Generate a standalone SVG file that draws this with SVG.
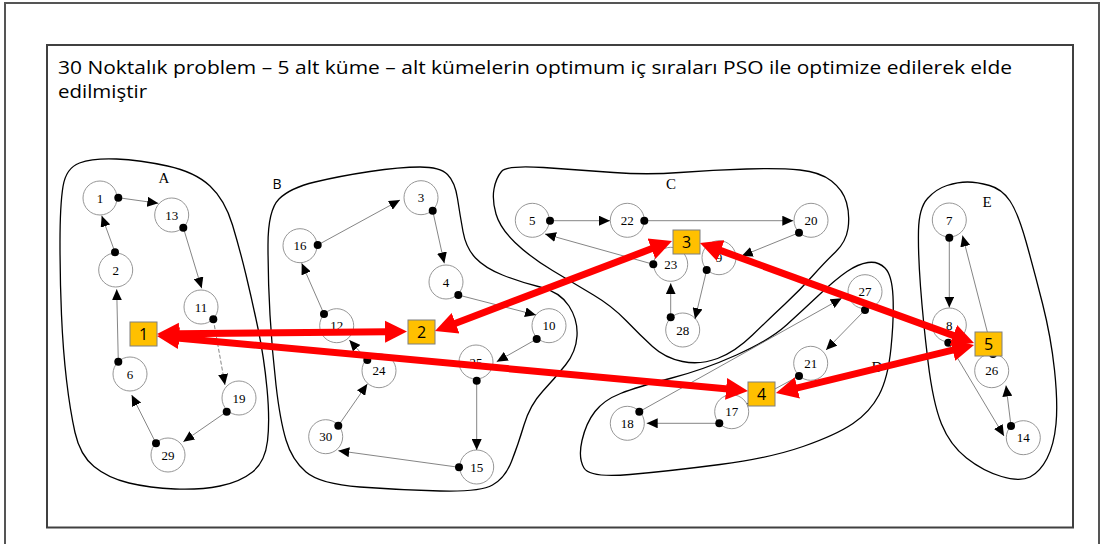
<svg xmlns="http://www.w3.org/2000/svg" width="1101" height="544" viewBox="0 0 1101 544">
  <style>
    .frame { fill: none; stroke: #555; stroke-width: 2; }
    .panel { fill: #fff; stroke: #404040; stroke-width: 2; }
    .title { font-family: "Open Sans", "Liberation Sans", sans-serif; font-size: 19px; fill: #000; }
    .cluster { fill: none; stroke: #000; stroke-width: 1.3; }
    .clabel { font-family: "Liberation Serif", serif; font-size: 15px; fill: #000; text-anchor: middle; }
    .clabel-s { font-family: "Open Sans", "Liberation Sans", sans-serif; font-size: 14px; fill: #000; text-anchor: middle; }
    .node circle { fill: #fff; stroke: #8a8a8a; stroke-width: 0.9; }
    .node text { font-family: "Liberation Serif", serif; font-size: 13px; fill: #000; text-anchor: middle; dominant-baseline: central; }
    .edge { stroke: #666; stroke-width: 0.8; fill: none; marker-end: url(#tip); }
    .dot { fill: #000; }
    .hub rect { fill: #FFC000; stroke: #7f7f7f; stroke-width: 1; }
    .hub text { font-family: "Open Sans", "Liberation Sans", sans-serif; font-size: 16px; fill: #000; text-anchor: middle; dominant-baseline: central; }
    .link { stroke: #FF0000; stroke-width: 7; fill: none; marker-start: url(#big); marker-end: url(#big); }
  </style>
  <defs>
    <marker id="tip" markerUnits="userSpaceOnUse" markerWidth="12" markerHeight="10" refX="11" refY="5" orient="auto">
      <path d="M0,0 L11,5 L0,10 Z" fill="#000"/>
    </marker>
    <marker id="big" markerUnits="userSpaceOnUse" markerWidth="24" markerHeight="24" refX="2" refY="12" orient="auto-start-reverse">
      <path d="M0,1 L22,12 L0,23 Z" fill="#FF0000"/>
    </marker>
  </defs>

  <!-- page frame and panel -->
  <path class="frame" d="M5,548 V3 H1099 V548"/>
  <rect class="panel" x="47" y="45" width="1026" height="482.5"/>

  <text class="title" x="58" y="74" textLength="954" lengthAdjust="spacingAndGlyphs">30 Noktalık problem – 5 alt küme – alt kümelerin optimum iç sıraları PSO ile optimize edilerek elde</text>
  <text class="title" x="58" y="98" textLength="89" lengthAdjust="spacingAndGlyphs">edilmiştir</text>

  <!-- subset outlines -->
  <g id="clusters">
    <path id="cluster-A" class="cluster" d="M116.5,159 Q140,160 167.5,166 Q195,172 210,186 Q225,200 232.5,225 Q240,250 246,275 Q252,300 258,328.5 Q264,357 267,388.5 Q270,420 267.5,441 Q265,462 252.5,472 Q240,482 220,486 Q200,490 175,489 Q150,488 129,483 Q108,478 94,466.5 Q80,455 75,432.5 Q70,410 66.5,380 Q63,350 61.5,315 Q60,280 60,242.5 Q60,205 63,186.5 Q66,168 79.5,163 Q93,158 116.5,159 Z"/>
    <path id="cluster-B" class="cluster" d="M279,199 Q290,188 315,182 Q340,176 370,171.5 Q400,167 420,167 Q440,167 447.5,174.5 Q455,182 457.5,198.5 Q460,215 463,231.5 Q466,248 475.5,258 Q485,268 502.5,275 Q520,282 540,287 Q560,292 569,306 Q578,320 577,336 Q576,352 565.5,365 Q555,378 542.5,391.5 Q530,405 524,425 Q518,445 511.5,461.5 Q505,478 492.5,485 Q480,492 440,491 Q400,490 360,487 Q320,484 306,472 Q292,460 286,440 Q280,420 276,385 Q272,350 270,315 Q268,280 268,245 Q268,210 279,199 Z"/>
    <path id="cluster-C" class="cluster" d="M543.5,167.5 Q580,170 613.5,172.5 Q647,175 680,172.5 Q713,170 746.5,169 Q780,168 800,170 Q820,172 831.5,181 Q843,190 846.5,202.5 Q850,215 848,228.5 Q846,242 835.5,252 Q825,262 812.5,276 Q800,290 785,304 Q770,318 752.5,335 Q735,352 717.5,358.5 Q700,365 682.5,361.5 Q665,358 652.5,346.5 Q640,335 626,320.5 Q612,306 593.5,295 Q575,284 552.5,270.5 Q530,257 515,242.5 Q500,228 496,214 Q492,200 494,189 Q496,178 501.5,171.5 Q507,165 543.5,167.5 Z"/>
    <path id="cluster-D" class="cluster" d="M885,268 Q892,275 893,296.5 Q894,318 891,348 Q888,378 879,395 Q870,412 853,423.5 Q836,435 803,446.5 Q770,458 720,464.5 Q670,471 630,474.5 Q590,478 584,468 Q578,458 582,440.5 Q586,423 595,411.5 Q604,400 620.5,393.5 Q637,387 670,378.5 Q703,370 736.5,355 Q770,340 786.5,325 Q803,310 819.5,294.5 Q836,279 847,271.5 Q858,264 868,262.5 Q878,261 885,268 Z"/>
    <path id="cluster-E" class="cluster" d="M989.5,185.5 Q1002,189 1010,201 Q1018,213 1026,241.5 Q1034,270 1042.5,303.5 Q1051,337 1054.5,370 Q1058,403 1056,424 Q1054,445 1047,458.5 Q1040,472 1030,477 Q1020,482 1001.5,476.5 Q983,471 966.5,458 Q950,445 941.5,424 Q933,403 928,361.5 Q923,320 920.5,286.5 Q918,253 918.5,230.5 Q919,208 927.5,198.5 Q936,189 947,185.5 Q958,182 967.5,182 Q977,182 989.5,185.5 Z"/>
    <text class="clabel" x="164" y="183">A</text>
    <text class="clabel-s" x="277" y="189">B</text>
    <text class="clabel" x="671" y="189">C</text>
    <text class="clabel" x="877" y="372">D</text>
    <text class="clabel" x="987" y="207">E</text>
  </g>

  <!-- points -->
  <g id="node-1" class="node"><circle cx="100" cy="198" r="17"/><text x="100" y="198">1</text></g>
  <g id="node-13" class="node"><circle cx="171.7" cy="215" r="17"/><text x="171.7" y="215">13</text></g>
  <g id="node-2" class="node"><circle cx="115.7" cy="270" r="17"/><text x="115.7" y="270">2</text></g>
  <g id="node-11" class="node"><circle cx="201" cy="307" r="17"/><text x="201" y="307">11</text></g>
  <g id="node-6" class="node"><circle cx="130" cy="374" r="17"/><text x="130" y="374">6</text></g>
  <g id="node-19" class="node"><circle cx="239" cy="398" r="17"/><text x="239" y="398">19</text></g>
  <g id="node-29" class="node"><circle cx="168" cy="455" r="17"/><text x="168" y="455">29</text></g>

  <g id="node-3" class="node"><circle cx="421" cy="197.7" r="17"/><text x="421" y="197.7">3</text></g>
  <g id="node-16" class="node"><circle cx="300" cy="245.7" r="17"/><text x="300" y="245.7">16</text></g>
  <g id="node-4" class="node"><circle cx="446" cy="282" r="17"/><text x="446" y="282">4</text></g>
  <g id="node-10" class="node"><circle cx="549" cy="325.7" r="17"/><text x="549" y="325.7">10</text></g>
  <g id="node-12" class="node"><circle cx="336.7" cy="325.7" r="17"/><text x="336.7" y="325.7">12</text></g>
  <g id="node-24" class="node"><circle cx="379" cy="370.7" r="17"/><text x="379" y="370.7">24</text></g>
  <g id="node-25" class="node"><circle cx="476" cy="362" r="17"/><text x="476" y="362">25</text></g>
  <g id="node-30" class="node"><circle cx="325.7" cy="436.7" r="17"/><text x="325.7" y="436.7">30</text></g>
  <g id="node-15" class="node"><circle cx="476.7" cy="467" r="17"/><text x="476.7" y="467">15</text></g>

  <g id="node-5" class="node"><circle cx="532.3" cy="220.3" r="17"/><text x="532.3" y="220.3">5</text></g>
  <g id="node-22" class="node"><circle cx="627.3" cy="220.3" r="17"/><text x="627.3" y="220.3">22</text></g>
  <g id="node-20" class="node"><circle cx="811" cy="220.3" r="17"/><text x="811" y="220.3">20</text></g>
  <g id="node-23" class="node"><circle cx="670.7" cy="264.3" r="17"/><text x="670.7" y="264.3">23</text></g>
  <g id="node-9" class="node"><circle cx="719" cy="257.7" r="17"/><text x="719" y="257.7">9</text></g>
  <g id="node-28" class="node"><circle cx="682.7" cy="330" r="17"/><text x="682.7" y="330">28</text></g>

  <g id="node-27" class="node"><circle cx="865" cy="291.7" r="17"/><text x="865" y="291.7">27</text></g>
  <g id="node-21" class="node"><circle cx="810.7" cy="363.3" r="17"/><text x="810.7" y="363.3">21</text></g>
  <g id="node-17" class="node"><circle cx="731.7" cy="411.7" r="17"/><text x="731.7" y="411.7">17</text></g>
  <g id="node-18" class="node"><circle cx="627.3" cy="423.3" r="17"/><text x="627.3" y="423.3">18</text></g>

  <g id="node-7" class="node"><circle cx="949.3" cy="220" r="17"/><text x="949.3" y="220">7</text></g>
  <g id="node-8" class="node"><circle cx="949.3" cy="325" r="17"/><text x="949.3" y="325">8</text></g>
  <g id="node-26" class="node"><circle cx="991.7" cy="370.7" r="17"/><text x="991.7" y="370.7">26</text></g>
  <g id="node-14" class="node"><circle cx="1023.3" cy="437.7" r="17"/><text x="1023.3" y="437.7">14</text></g>

  <!-- tours inside each subset -->
  <g id="connectors">
    <line class="edge" x1="118.3" y1="197.7" x2="158.3" y2="203.3"/>
    <line class="edge" x1="183.3" y1="227.7" x2="201.7" y2="288.3"/>
    <line class="edge" x1="213.3" y1="319.3" x2="225" y2="385" stroke-dasharray="4 2"/>
    <line class="edge" x1="226.7" y1="411.7" x2="183.3" y2="441.7"/>
    <line class="edge" x1="156" y1="443.3" x2="131.7" y2="395"/>
    <line class="edge" x1="118.3" y1="361.7" x2="116.7" y2="289.3"/>
    <line class="edge" x1="115" y1="252.3" x2="101.7" y2="215.7"/>

    <line class="edge" x1="317.7" y1="245" x2="400" y2="200"/>
    <line class="edge" x1="432.7" y1="210.7" x2="444.3" y2="263.3"/>
    <line class="edge" x1="458.3" y1="295" x2="536" y2="315"/>
    <line class="edge" x1="536.7" y1="339" x2="496.7" y2="361.7"/>
    <line class="edge" x1="476.7" y1="380.7" x2="476.7" y2="450"/>
    <line class="edge" x1="459" y1="467.3" x2="338.3" y2="450.7"/>
    <line class="edge" x1="338.3" y1="425.7" x2="367.3" y2="384"/>
    <line class="edge" x1="367.3" y1="360" x2="349.3" y2="340"/>
    <line class="edge" x1="324" y1="314" x2="301.7" y2="263.3"/>

    <line class="edge" x1="550" y1="220.7" x2="610" y2="220.7"/>
    <line class="edge" x1="644.3" y1="220.7" x2="793.3" y2="220.7"/>
    <line class="edge" x1="799" y1="232.7" x2="741.7" y2="256"/>
    <line class="edge" x1="706.7" y1="270" x2="695" y2="319"/>
    <line class="edge" x1="670.7" y1="317.3" x2="670.7" y2="283.3"/>
    <line class="edge" x1="653.3" y1="264.3" x2="545" y2="234"/>

    <line class="edge" x1="865" y1="310" x2="826" y2="350"/>
    <line class="edge" x1="799" y1="376" x2="747" y2="404"/>
    <line class="edge" x1="719.3" y1="423.3" x2="646.7" y2="423.3"/>
    <line class="edge" x1="639.3" y1="411.7" x2="841.7" y2="298.3"/>

    <line class="edge" x1="949.3" y1="237.7" x2="949.3" y2="307.5"/>
    <line class="edge" x1="948.3" y1="342.7" x2="1004" y2="436"/>
    <line class="edge" x1="1011" y1="426" x2="1006" y2="385.5"/>
    <line class="edge" x1="993" y1="354" x2="962.5" y2="235.5"/>

    <g id="edge-starts">
      <circle class="dot" cx="118.3" cy="197.7" r="4"/>
      <circle class="dot" cx="183.3" cy="227.7" r="4"/>
      <circle class="dot" cx="213.3" cy="319.3" r="4"/>
      <circle class="dot" cx="226.7" cy="411.7" r="4"/>
      <circle class="dot" cx="156" cy="443.3" r="4"/>
      <circle class="dot" cx="118.3" cy="361.7" r="4"/>
      <circle class="dot" cx="115" cy="252.3" r="4"/>
      <circle class="dot" cx="317.7" cy="245" r="4"/>
      <circle class="dot" cx="432.7" cy="210.7" r="4"/>
      <circle class="dot" cx="458.3" cy="295" r="4"/>
      <circle class="dot" cx="536.7" cy="339" r="4"/>
      <circle class="dot" cx="476.7" cy="380.7" r="4"/>
      <circle class="dot" cx="459" cy="467.3" r="4"/>
      <circle class="dot" cx="338.3" cy="425.7" r="4"/>
      <circle class="dot" cx="367.3" cy="360" r="4"/>
      <circle class="dot" cx="324" cy="314" r="4"/>
      <circle class="dot" cx="550" cy="220.7" r="4"/>
      <circle class="dot" cx="644.3" cy="220.7" r="4"/>
      <circle class="dot" cx="799" cy="232.7" r="4"/>
      <circle class="dot" cx="706.7" cy="270" r="4"/>
      <circle class="dot" cx="670.7" cy="317.3" r="4"/>
      <circle class="dot" cx="653.3" cy="264.3" r="4"/>
      <circle class="dot" cx="865" cy="310" r="4"/>
      <circle class="dot" cx="799" cy="376" r="4"/>
      <circle class="dot" cx="719.3" cy="423.3" r="4"/>
      <circle class="dot" cx="639.3" cy="411.7" r="4"/>
      <circle class="dot" cx="949.3" cy="237.7" r="4"/>
      <circle class="dot" cx="948.3" cy="342.7" r="4"/>
      <circle class="dot" cx="1011" cy="426" r="4"/>
      <circle class="dot" cx="993" cy="354" r="4"/>
    </g>
  </g>

  <!-- subset representatives -->
  <g id="hub-1" class="hub"><rect x="130" y="322" width="27" height="24"/><text x="143.5" y="334">1</text></g>
  <g id="hub-2" class="hub"><rect x="408" y="320" width="27" height="24"/><text x="421.5" y="332">2</text></g>
  <g id="hub-3" class="hub"><rect x="673" y="230" width="27" height="24"/><text x="686.5" y="242">3</text></g>
  <g id="hub-4" class="hub"><rect x="748" y="382" width="27" height="24"/><text x="761.5" y="394">4</text></g>
  <g id="hub-5" class="hub"><rect x="975" y="332" width="27" height="24"/><text x="988.5" y="344">5</text></g>

  <!-- links between subsets -->
  <g id="links">
    <line class="link" x1="177" y1="333.8" x2="387" y2="331.7"/>
    <line class="link" x1="176.9" y1="337.9" x2="728.1" y2="389.1"/>
    <line class="link" x1="453.7" y1="323.9" x2="653.3" y2="248.1"/>
    <line class="link" x1="718.8" y1="249.9" x2="955.2" y2="336.1"/>
    <line class="link" x1="795.4" y1="388.3" x2="954.6" y2="349.7"/>
  </g>
</svg>
